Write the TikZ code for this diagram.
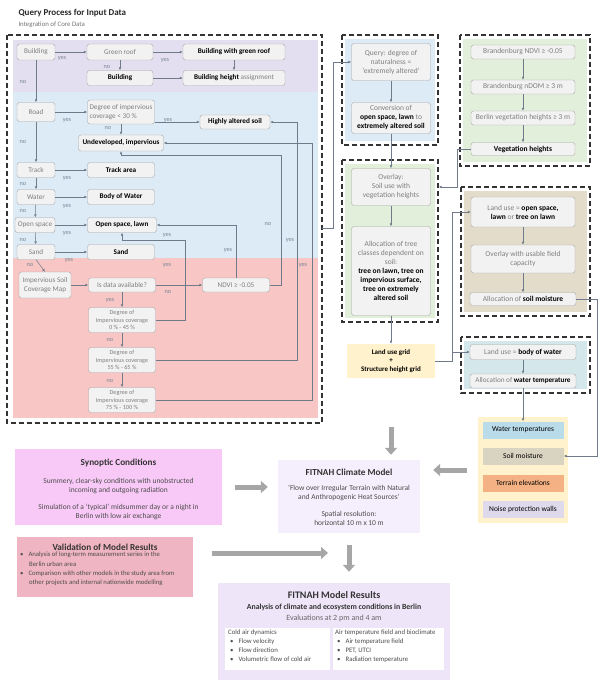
\documentclass[tikz,border=0pt]{standalone}
\usepackage{fontspec}
\setmainfont{Carlito}
\usetikzlibrary{arrows.meta, positioning, calc}
\definecolor{boxline}{HTML}{A6A6A6}
\definecolor{boxfill}{HTML}{F2F2F2}
\definecolor{txtgray}{HTML}{7F7F7F}
\definecolor{labgray}{HTML}{7A8696}
\definecolor{linegray}{HTML}{6F7B8A}
\definecolor{arrowgray}{HTML}{A6A6A6}
\definecolor{bandpurple}{HTML}{E4DFF0}
\definecolor{bandblue}{HTML}{DDEBF7}
\definecolor{bandpink}{HTML}{F8C6C4}
\definecolor{veggreen}{HTML}{E2EFDA}
\definecolor{soiltan}{HTML}{E3DCCA}
\definecolor{waterteal}{HTML}{D4E7EB}
\definecolor{gridyellow}{HTML}{FFF2CC}
\definecolor{tileblue}{HTML}{B9DBEA}
\definecolor{tiletan}{HTML}{D9D3C1}
\definecolor{tileorange}{HTML}{F4B183}
\definecolor{tilelilac}{HTML}{DEDAEC}
\definecolor{synpink}{HTML}{F8C9F6}
\definecolor{valrose}{HTML}{F0B5C2}
\definecolor{modellilac}{HTML}{F5EEFC}
\definecolor{resultlilac}{HTML}{EFE5F8}
\newcommand{\kw}[1]{{\bfseries\color{black}#1}}
\tikzset{
  qbox/.style={draw=boxline, fill=boxfill, rounded corners=2.5pt, text=txtgray,
    font=\fontsize{7.2}{8.4}\selectfont, align=center, inner sep=1pt},
  res/.style={qbox, text=black, font=\fontsize{7.2}{8.4}\selectfont\bfseries},
  rbox/.style={qbox, font=\fontsize{7.5}{9}\selectfont},
  wh/.style 2 args={minimum width=#1pt, minimum height=#2pt},
  lab/.style={font=\fontsize{6.3}{7}\selectfont, text=labgray, inner sep=0pt},
  link/.style={-{Latex[length=3pt,width=2.6pt]}, draw=linegray, line width=0.5pt},
  dashframe/.style={draw=black!80, line width=1.2pt, dash pattern=on 5pt off 3pt},
  fatarrow/.style={-{Triangle[length=7pt,width=12pt]}, line width=5pt, draw=arrowgray},
  tile/.style={font=\fontsize{7.5}{9}\selectfont, text=black, wh={81}{17}, inner sep=0pt},
  plain/.style={font=\fontsize{7.5}{9}\selectfont, text=black!70, align=center, inner sep=0pt},
  head/.style={plain, font=\fontsize{9.2}{10}\selectfont\bfseries, text=black!80},
}
\begin{document}
\begin{tikzpicture}[x=1pt, y=-1pt]
\useasboundingbox (0,0) rectangle (604,689);

% Heading
\node[anchor=west, font=\fontsize{9}{10}\selectfont\bfseries, text=black!85] (title) at (15,13) {Query Process for Input Data};
\node[anchor=west, font=\fontsize{6.8}{8}\selectfont, text=black!55] (subtitle) at (15,25) {Integration of Core Data};

% Query panel
\fill[bandpurple] (13,40) rectangle (318,92);
\fill[bandblue] (13,92) rectangle (318,258);
\fill[bandpink] (13,258) rectangle (318,418);
\draw[dashframe] (7,35) rectangle (322,423);
\coordinate (qout) at (322,228);

\node[qbox, wh={38}{16}] (building) at (36,52) {Building};
\node[qbox, wh={66}{16}] (greenroof) at (120,52) {Green roof};
\node[res, wh={102}{16}] (bgreen) at (234,52) {Building with green roof};
\node[res, wh={66}{15}] (bldg) at (120,78) {Building};
\node[qbox, wh={102}{15}] (bheight) at (234,78) {\kw{Building height} assignment};
\node[qbox, wh={38}{19}] (road) at (36,112) {Road};
\node[qbox, wh={67}{24}, align=left] (imp30) at (121,112) {Degree of impervious\\coverage < 30 \%};
\node[res, wh={70}{14}] (highsoil) at (235,122) {Highly altered soil};
\node[res, wh={85}{16}] (undev) at (121,143) {Undeveloped, impervious};
\node[qbox, wh={38}{15}] (track) at (36,170) {Track};
\node[res, wh={67}{15}] (trackarea) at (121,170) {Track area};
\node[qbox, wh={38}{15}] (water) at (36,197) {Water};
\node[res, wh={67}{15}] (bodywater) at (121,197) {Body of Water};
\node[qbox, wh={40}{15}] (openspace) at (35,225) {Open space};
\node[res, wh={69}{15}] (lawn) at (122,225) {Open space, lawn};
\node[qbox, wh={38}{15}] (sand) at (36,252) {Sand};
\node[res, wh={67}{15}] (sandres) at (121,252) {Sand};
\node[qbox, wh={52}{26}] (impmap) at (45,285) {Impervious Soil\\Coverage Map};
\node[qbox, wh={67}{14}] (avail) at (122,285) {Is data available?};
\node[qbox, wh={67}{14}] (ndvi) at (236,285) {NDVI ≥ -0.05};
\node[qbox, wh={67}{25}, font=\fontsize{6.2}{7.4}\selectfont] (deg1) at (122,320) {Degree of\\Impervious coverage\\0 \% - 45 \%};
\node[qbox, wh={67}{25}, font=\fontsize{6.2}{7.4}\selectfont] (deg2) at (122,360) {Degree of\\Impervious coverage\\55 \% - 65 \%};
\node[qbox, wh={67}{25}, font=\fontsize{6.2}{7.4}\selectfont] (deg3) at (122,400) {Degree of\\Impervious coverage\\75 \% - 100 \%};

\draw[link] (building) -- (greenroof);
\draw[link] (greenroof) -- (bgreen);
\draw[link] (greenroof) -- (bldg);
\draw[link] (bgreen) -- (bheight);
\draw[link] (bldg) -- (bheight);
\draw[link] (building) -- (road);
\draw[link] (road) -- (imp30);
\draw[link] (imp30.east |- highsoil) -- (highsoil);
\draw[link] (imp30) -- (undev);
\draw[link] (road) -- (track);
\draw[link] (track) -- (trackarea);
\draw[link] (track) -- (water);
\draw[link] (water) -- (bodywater);
\draw[link] (water) -- (openspace);
\draw[link] (openspace) -- (lawn);
\draw[link] (openspace) -- (sand);
\draw[link] (sand) -- (sandres);
\draw[link] (sand.south) -- (impmap.north);
\draw[link] (impmap) -- (avail);
\draw[link] (avail) -- (ndvi);
\draw[link] (avail) -- (deg1);
\draw[link] (deg1) -- (deg2);
\draw[link] (deg2) -- (deg3);
\draw[link] (deg1.east) -- ++(30,0) |- ([yshift=-8pt]lawn.south) -- (lawn.south);
\draw[link] (ndvi.north) |- (lawn.east);
\draw[link] (ndvi.east) -- ++(12,0) |- ([yshift=-4pt]undev.south) -- (undev.south);
\draw[link] (deg2.east) -- ++(142,0) |- (highsoil.east);
\draw[link] (deg3.east) -- ++(157,0) |- (undev.east);

\node[lab] (y1) at (62,58) {yes};
\node[lab] (n1) at (23,82) {no};
\node[lab] (n2) at (107,67) {no};
\node[lab] (y2) at (165,60) {yes};
\node[lab] (y3) at (67,120) {yes};
\node[lab] (y4) at (168,120) {yes};
\node[lab] (n3) at (108,128) {no};
\node[lab] (n4) at (23,142) {no};
\node[lab] (y5) at (67,178) {yes};
\node[lab] (n5) at (23,184) {no};
\node[lab] (y6) at (67,206) {yes};
\node[lab] (n6) at (23,211) {no};
\node[lab] (y7) at (67,233) {yes};
\node[lab] (n7) at (23,240) {no};
\node[lab] (y8) at (69,260) {yes};
\node[lab] (n8) at (30,265) {no};
\node[lab] (y9) at (167,235) {yes};
\node[lab] (y10) at (228,250) {yes};
\node[lab] (n9) at (268,224) {no};
\node[lab] (y11) at (290,240) {yes};
\node[lab] (y12) at (303,265) {yes};
\node[lab] (y13) at (167,265) {yes};
\node[lab] (n10) at (168,292) {no};
\node[lab] (y14) at (110,300) {yes};
\node[lab] (n11) at (110,340) {no};
\node[lab] (n12) at (110,381) {no};

% Naturalness and tree classes
\fill[bandblue] (345,39) rectangle (435,141);
\draw[dashframe] (342,35) rectangle (438,145);
\fill[veggreen] (345,164) rectangle (435,318);
\draw[dashframe] (342,160) rectangle (438,322);

\node[rbox, wh={79}{37}] (query) at (391,62) {Query: degree of\\naturalness =\\‘extremely altered’};
\node[rbox, wh={79}{31}] (conv) at (391,118) {Conversion of\\\kw{open space, lawn} to\\\kw{extremely altered soil}};
\node[rbox, wh={79}{37}] (overlay) at (391,187) {Overlay:\\Soil use with\\vegetation heights};
\node[rbox, wh={79}{89}] (alloc) at (391,271) {Allocation of tree\\classes dependent on\\soil:\\\kw{tree on lawn, tree on}\\\kw{impervious surface,}\\\kw{tree on extremely}\\\kw{altered soil}};
\node[fill=gridyellow, wh={88}{34}, align=center, inner sep=0pt, font=\fontsize{7}{8.6}\selectfont\bfseries] (grid) at (391,361) {Land use grid\\+\\Structure height grid};

\draw[link] (qout) -- ++(11,0) |- (query.west);
\draw[link] (query) -- (conv);
\draw[link] (conv) -- (overlay);
\draw[link] (overlay) -- (alloc);
\draw[link] (alloc) -- (grid);

% Vegetation, soil moisture, water
\fill[veggreen] (463,39) rectangle (587,162);
\draw[dashframe] (460,35) rectangle (590,166);
\fill[soiltan] (464,191) rectangle (587,312);
\draw[dashframe] (461,187) rectangle (590,316);
\fill[waterteal] (464,341) rectangle (587,389);
\draw[dashframe] (461,337) rectangle (590,393);

\node[rbox, wh={104}{14}] (bndvi) at (523,52) {Brandenburg NDVI ≥ -0.05};
\node[rbox, wh={104}{14}] (bndom) at (523,87) {Brandenburg nDOM ≥ 3 m};
\node[rbox, wh={104}{14}] (bveg) at (523,118) {Berlin vegetation heights ≥ 3 m};
\node[rbox, wh={104}{13}, text=black, font=\fontsize{7.5}{9}\selectfont\bfseries] (veg) at (523,149) {Vegetation heights};
\node[rbox, wh={104}{30}] (luopen) at (523,212) {Land use = \kw{open space,}\\\kw{lawn} or \kw{tree on lawn}};
\node[rbox, wh={104}{28}] (ufc) at (523,259) {Overlay with usable field\\capacity};
\node[rbox, wh={106}{13}] (soilm) at (523,299) {Allocation of \kw{soil moisture}};
\node[rbox, wh={106}{15}] (luwater) at (523,352) {Land use = \kw{body of water}};
\node[rbox, wh={106}{14}, font=\fontsize{7.2}{9}\selectfont] (watert) at (523,381) {Allocation of \kw{water temperature}};

\draw[link] (bndvi) -- (bndom);
\draw[link] (bndom) -- (bveg);
\draw[link] (bveg) -- (veg);
\draw[link] (veg.west) -- ++(-14,0) |- ([xshift=8pt]overlay.east);
\draw[link] (grid.east) -- ++(17,0) |- (luopen.west);
\draw[link] ([xshift=17pt]grid.east) |- (luwater.west);
\draw[link] (luopen) -- (ufc);
\draw[link] (ufc) -- (soilm);
\draw[link] (luwater) -- (watert);

% Model inputs
\node[fill=gridyellow, wh={90}{106}, inner sep=0pt] (inputs) at (523,470) {};
\node[tile, fill=tileblue] (wt) at (523,430) {Water temperatures};
\node[tile, fill=tiletan] (sm) at (523,456) {Soil moisture};
\node[tile, fill=tileorange] (te) at (523,483) {Terrain elevations};
\node[tile, fill=tilelilac] (nw) at (523,509) {Noise protection walls};

\draw[link] (watert) -- (wt);
\draw[link] (soilm.east) -- ++(21,0) |- (sm.east);

% Climate model
\node[fill=synpink, wh={207}{76}, inner sep=0pt] (synop) at (118.5,487) {};
\node[head] (synoptitle) at (118.5,463) {Synoptic Conditions};
\node[plain] (synopa) at (118.5,486.5) {Summery, clear-sky conditions with unobstructed\\incoming and outgoing radiation};
\node[plain] (synopb) at (118.5,512) {Simulation of a ‘typical’ midsummer day or a night in\\Berlin with low air exchange};

\node[fill=valrose, wh={176}{60}, inner sep=0pt] (valid) at (105,567) {};
\node[head] (validtitle) at (105,547) {Validation of Model Results};
\node[plain, align=left, anchor=north west, font=\fontsize{6.7}{9.3}\selectfont] (validlist) at (20,552) {\textbullet\hspace{5pt}Analysis of long-term measurement series in the\\\hspace{9pt}Berlin urban area\\\textbullet\hspace{5pt}Comparison with other models in the study area from\\\hspace{9pt}other projects and internal nationwide modelling};

\node[fill=modellilac, wh={142}{73}, inner sep=0pt] (climate) at (349,496.5) {};
\node[head] (climatetitle) at (349,472) {FITNAH Climate Model};
\node[plain] (climatea) at (349,492.5) {‘Flow over Irregular Terrain with Natural\\and Anthropogenic Heat Sources’};
\node[plain] (climateb) at (349,518) {Spatial resolution:\\horizontal 10 m x 10 m};

\node[fill=resultlilac, wh={232}{97}, inner sep=0pt] (results) at (334,631.5) {};
\node[head, font=\fontsize{10}{11}\selectfont\bfseries] (resultstitle) at (334,595) {FITNAH Model Results};
\node[plain, font=\fontsize{7.8}{9}\selectfont\bfseries, text=black!80] (resultssub) at (334,607) {Analysis of climate and ecosystem conditions in Berlin};
\node[plain, font=\fontsize{8}{9}\selectfont, text=black!60] (resultswhen) at (334,618.5) {Evaluations at 2 pm and 4 am};
\node[fill=white, wh={105}{42}, inner sep=0pt] (coldair) at (277.5,649) {};
\node[plain, align=left, anchor=north west, font=\fontsize{6.8}{9}\selectfont] (coldlist) at (228,630) {Cold air dynamics\\\hspace{2pt}\textbullet\hspace{5pt}Flow velocity\\\hspace{2pt}\textbullet\hspace{5pt}Flow direction\\\hspace{2pt}\textbullet\hspace{5pt}Volumetric flow of cold air};
\node[fill=white, wh={111}{42}, inner sep=0pt] (bioclim) at (388.5,649) {};
\node[plain, align=left, anchor=north west, font=\fontsize{6.8}{9}\selectfont] (biolist) at (335,630) {Air temperature field and bioclimate\\\hspace{2pt}\textbullet\hspace{5pt}Air temperature field\\\hspace{2pt}\textbullet\hspace{5pt}PET, UTCI\\\hspace{2pt}\textbullet\hspace{5pt}Radiation temperature};

\coordinate (vtip) at (328,553);
\draw[fatarrow] ([yshift=-49pt]grid.south) -- ([yshift=5pt]climate.north -| grid.south);
\draw[fatarrow] ([xshift=-11pt]inputs.west) -- ([xshift=13pt]inputs.west -| climate.east);
\draw[fatarrow] ([xshift=13pt]synop.east) -- ([xshift=-10pt]synop.east -| climate.west);
\draw[fatarrow] ([xshift=19pt]valid.east |- vtip) -- (vtip);
\draw[fatarrow] ([yshift=-12pt]climate.south) -- ([yshift=11pt]climate.south |- results.north);
\end{tikzpicture}
\end{document}
